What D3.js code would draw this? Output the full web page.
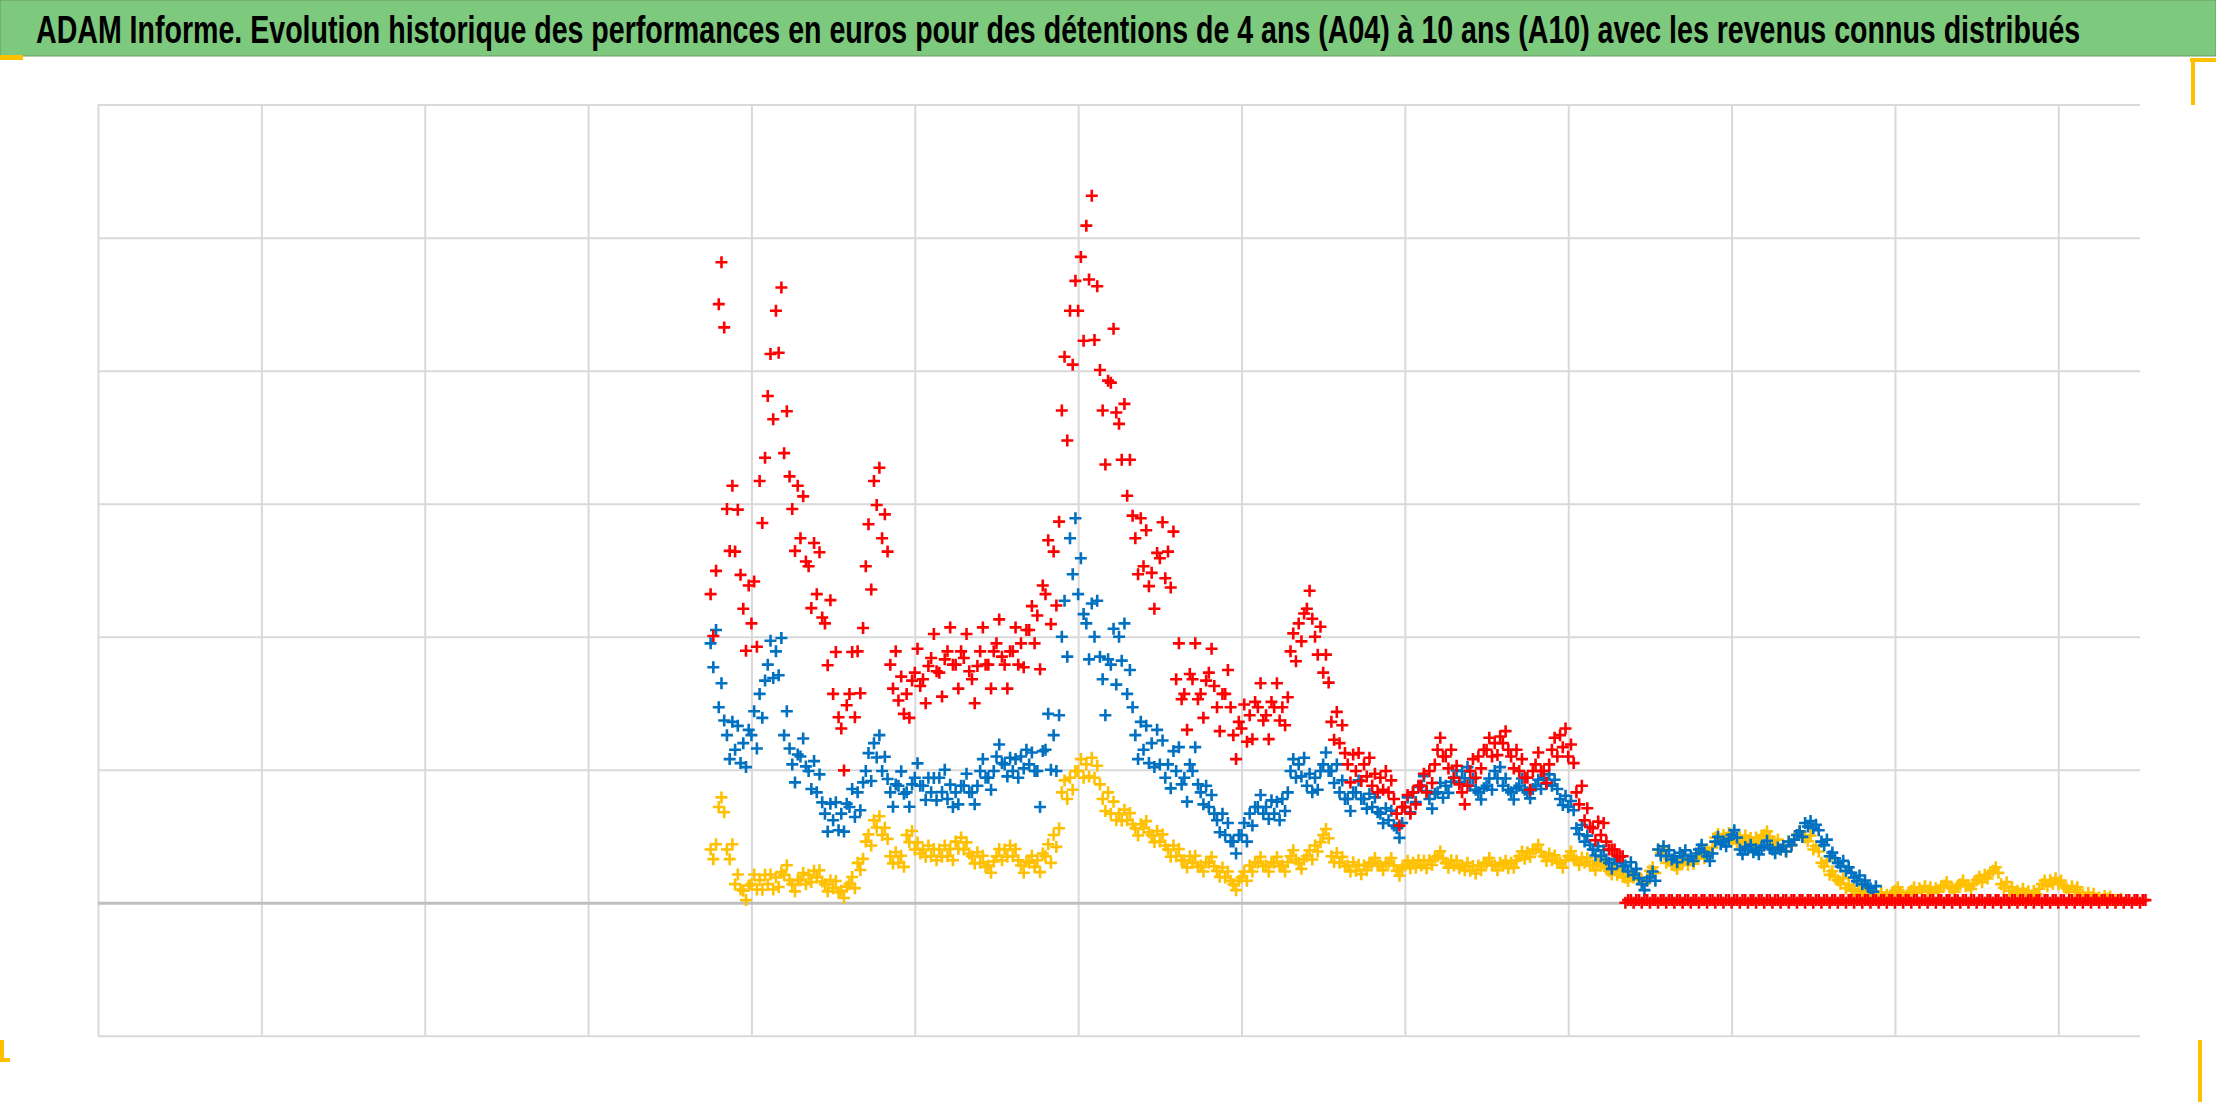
<!DOCTYPE html>
<html><head><meta charset="utf-8">
<script src="https://cdn.jsdelivr.net/npm/d3@7"></script>
<style>html,body{margin:0;padding:0;background:#fff;overflow:hidden}</style>
</head><body>
<svg id="c" width="2216" height="1102"></svg>
<script>
const titleText = "ADAM Informe. Evolution historique des performances en euros pour des détentions de 4 ans (A04) à 10 ans (A10) avec les revenus connus distribués";
// x in grid periods; each series sampled every 0.05 period from start 3.75
const startPeriod = 3.75, periodStep = 0.05;
const xTicks = [0,1,2,3,4,5,6,7,8,9,10,11,12];
const yTicks = [-1,0,1,2,3,4,5,6];
const redValues = [2.32,4.5,2.96,2.64,2.21,2.1,3.17,3.81,4.45,3.38,2.96,2.74,2.53,2.32,2.1,1.57,1.31,1.57,1.89,2.53,3.17,2.74,1.79,1.52,1.57,1.73,1.68,1.84,1.73,1.89,1.79,1.84,1.68,1.89,1.79,1.95,1.79,1.89,1.95,2.05,2.16,2.32,2.64,3.7,4.45,4.45,5.09,4.23,3.7,3.91,3.6,3.06,2.74,2.53,2.48,2.59,2.64,1.68,1.57,1.68,1.57,1.73,1.47,1.57,1.26,1.31,1.41,1.47,1.41,1.47,1.47,1.89,2.1,2.21,2.0,1.73,1.36,1.2,1.04,0.99,1.04,0.88,0.94,0.83,0.67,0.72,0.83,0.88,0.99,1.15,1.1,0.94,0.83,0.99,1.1,1.15,1.2,1.2,1.1,0.99,0.94,1.04,0.99,1.15,1.26,1.1,0.83,0.62,0.56,0.51,0.4,0.35,
0,0,0,0,0,0,0,0,0,0,0,0,0,0,0,0,0,0,0,0,0,0,0,0,0,0,0,0,0,0,0,0,0,0,0,0,0,0,0,0,0,0,0,0,0,0,0,0,0,0,0,0,0,0,0,0,0,0,0,0,0,0,0,0];
const blueValues = [1.95,1.47,1.26,1.15,1.2,1.26,1.57,1.79,1.89,1.26,1.04,1.1,0.99,0.83,0.67,0.62,0.67,0.72,0.83,0.99,1.2,0.99,0.83,0.88,0.83,0.94,0.88,0.83,0.94,0.78,0.83,0.88,0.83,0.99,0.94,1.1,1.04,0.99,1.1,1.04,0.99,1.15,1.26,2.0,2.74,2.32,2.1,2.0,1.68,1.79,2.0,1.57,1.26,1.15,1.2,1.04,1.04,0.99,0.94,0.99,0.83,0.72,0.62,0.51,0.46,0.51,0.67,0.72,0.72,0.67,0.78,0.99,1.04,0.88,0.94,1.04,0.99,0.83,0.78,0.83,0.78,0.72,0.67,0.62,0.56,0.72,0.83,0.88,0.78,0.83,0.88,0.94,0.99,0.88,0.83,0.88,0.99,0.88,0.83,0.88,0.83,0.88,0.94,0.88,0.78,0.72,0.56,0.46,0.4,0.35,0.3,0.3,0.28,0.21,0.14,0.19,0.4,0.35,0.35,0.35,0.35,0.4,0.35,0.46,0.46,0.51,0.4,0.4,0.4,0.43,0.4,0.4,0.46,0.51,0.6,0.56,0.46,0.35,0.3,0.24,0.19,0.14,0.11];
const yellowValues = [0.4,0.72,0.4,0.14,0.09,0.14,0.17,0.14,0.19,0.21,0.14,0.17,0.21,0.19,0.14,0.11,0.09,0.14,0.3,0.46,0.62,0.51,0.35,0.3,0.51,0.4,0.4,0.35,0.4,0.35,0.46,0.4,0.35,0.3,0.28,0.35,0.4,0.35,0.28,0.3,0.32,0.35,0.51,0.83,0.94,0.99,1.04,0.94,0.78,0.67,0.67,0.62,0.56,0.56,0.51,0.46,0.4,0.35,0.32,0.3,0.28,0.3,0.24,0.19,0.14,0.19,0.28,0.3,0.28,0.3,0.28,0.35,0.3,0.35,0.43,0.51,0.35,0.3,0.28,0.24,0.28,0.3,0.28,0.3,0.24,0.28,0.3,0.28,0.32,0.35,0.3,0.28,0.28,0.24,0.28,0.3,0.28,0.28,0.3,0.35,0.38,0.4,0.35,0.32,0.3,0.35,0.32,0.3,0.28,0.28,0.24,0.21,0.19,0.19,0.17,0.24,0.4,0.3,0.28,0.3,0.32,0.35,0.4,0.49,0.51,0.46,0.49,0.46,0.49,0.51,0.46,0.4,0.46,0.51,0.49,0.4,0.3,0.21,0.17,0.11,0.09,0.06,0.06,0.05,0.06,0.09,0.06,0.09,0.11,0.09,0.11,0.13,0.11,0.14,0.13,0.17,0.21,0.24,0.14,0.09,0.09,0.06,0.09,0.14,0.17,0.14,0.11,0.09,0.06,0.04,0.04,0.03,0.02];
// half-height of each point cloud, read per half period from 3.75
const redSpread = [0.35,0.35,0.2,0.2,0.45,0.3,0.2,0.15,0.1,0.1,0.1,0,0,0,0,0,0,0];
const blueSpread = [0.2,0.15,0.12,0.1,0.3,0.2,0.1,0.1,0.08,0.06,0.05,0.05,0.04,0.03,0.03,0.03,0.03,0.03];
const yellowSpread = [0.08,0.06,0.06,0.06,0.1,0.06,0.05,0.05,0.04,0.04,0.04,0.03,0.03,0.03,0.03,0.03,0.03,0.02];
const seriesList = [
  {name:"A04", values:yellowValues, spread:yellowSpread, color:"#ffc000"},
  {name:"A07", values:blueValues, spread:blueSpread, color:"#0070c0"},
  {name:"A10", values:redValues, spread:redSpread, color:"#ff0000"}
];

const svg = d3.select("#c");
const W = 2216, H = 1102;
svg.append("rect").attr("x",0).attr("y",0).attr("width",W).attr("height",56).attr("fill","#7dc97d").attr("stroke","#6a9a6a").attr("stroke-width",1);
const title = svg.append("text").attr("x",0).attr("y",0).attr("font-family","'Liberation Sans',sans-serif")
  .attr("font-weight","bold").attr("font-size",39).attr("fill","#000").text(titleText);
const L = title.node().getComputedTextLength();
const k = Math.min(1, 2045 / L);
title.attr("transform",`translate(36,43) scale(${k},1)`);
const cm = "#ffc000";
svg.append("rect").attr("x",0).attr("y",55).attr("width",23).attr("height",5).attr("fill",cm);
svg.append("path").attr("d","M2190,60 H2216 M2193,60 V105").attr("stroke",cm).attr("stroke-width",4).attr("fill","none");
svg.append("path").attr("d","M2,1040 V1060 M0,1060 H10").attr("stroke",cm).attr("stroke-width",4).attr("fill","none");
svg.append("path").attr("d","M2200,1040 V1102").attr("stroke",cm).attr("stroke-width",4).attr("fill","none");

const x = d3.scaleLinear().domain([0,12.5]).range([98,2140]);
const y = d3.scaleLinear().domain([-1,6]).range([1035.8,104.6]);
const g = svg.append("g");
g.append("g").attr("transform",`translate(0,${y(-1)})`)
  .call(d3.axisBottom(x).tickValues(xTicks).tickSize(-(y(-1)-y(6))).tickFormat(""))
  .call(a=>a.select(".domain").remove())
  .call(a=>a.selectAll("line").attr("stroke","#d9d9d9").attr("stroke-width",2));
g.append("g").attr("transform",`translate(${x(0)},0)`)
  .call(d3.axisLeft(y).tickValues(yTicks).tickSize(-(x(12.5)-x(0))).tickFormat(""))
  .call(a=>a.select(".domain").remove())
  .call(a=>a.selectAll("line").attr("stroke",d=>d===0?"#bfbfbf":"#d9d9d9").attr("stroke-width",d=>d===0?3:2));

const s = 6;
seriesList.forEach(se=>{
  const pts = [];
  se.values.forEach((v,i)=>{
    const p = startPeriod+i*periodStep;
    const sp = v===0 ? 0 : se.spread[Math.min(se.spread.length-1, Math.floor((p-startPeriod)/0.5))];
    pts.push([p, v]);
    pts.push([p+periodStep/3, Math.max(0.02, v+sp*(i%2?0.9:-0.9))]);
    pts.push([p+2*periodStep/3, Math.max(0.02, v+sp*(i%2?-0.5:0.5))]);
  });
  g.append("g").selectAll("path").data(pts).join("path")
    .attr("transform",d=>`translate(${x(d[0])},${y(d[1])})`)
    .attr("d",`M${-s},0H${s}M0,${-s}V${s}`)
    .attr("stroke",se.color).attr("stroke-width",2.6).attr("fill","none");
});
</script>
</body></html>
